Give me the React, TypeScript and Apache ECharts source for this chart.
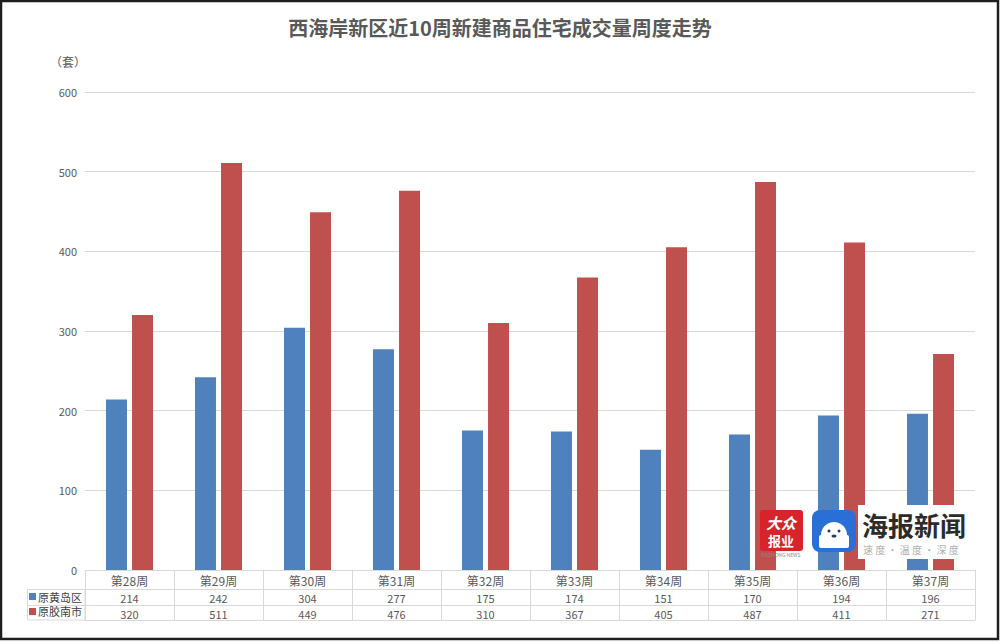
import React, { useEffect, useRef } from "react";
import * as echarts from "echarts";

const weeks = ["第28周", "第29周", "第30周", "第31周", "第32周", "第33周", "第34周", "第35周", "第36周", "第37周"];
const huangdao = [214, 242, 304, 277, 175, 174, 151, 170, 194, 196];
const jiaonan = [320, 511, 449, 476, 310, 367, 405, 487, 411, 271];
const seriesNames = ["原黄岛区", "原胶南市"];
const yTicks = { min: 0, max: 600, interval: 100 };

const FONT = "'Noto Sans CJK SC', 'Noto Sans', sans-serif";
const LINE = "#d9d9d9";
const TXT = "#595959";

export default function App() {
  const ref = useRef<HTMLDivElement>(null);
  useEffect(() => {
    if (!ref.current) return;
    const chart = echarts.init(ref.current, undefined, { renderer: "svg" });
    const hiddenY = (gi: number) => ({ type: "value", gridIndex: gi, show: false });
    const rowAxis = (gi: number, data: number[], margin: number) => ({
      type: "category",
      gridIndex: gi,
      position: "bottom",
      data: data.map(String),
      axisLine: { show: true, lineStyle: { color: LINE, width: 1 } },
      axisTick: { show: false },
      axisLabel: { margin, fontSize: 11, color: TXT, fontFamily: FONT, interval: 0 },
    });
    const wm: any[] = [
      { type: "rect", shape: { x: 858, y: 505, width: 116, height: 54 }, style: { fill: "#ffffff" } },
      { type: "rect", shape: { x: 760, y: 510, width: 43, height: 41, r: 3 }, style: { fill: "#d7242a" } },
      {
        type: "text",
        x: 781,
        y: 522,
        style: { text: "大众", fontSize: 15, fontWeight: "bold", fontStyle: "italic", fill: "#ffffff", align: "center", verticalAlign: "middle", fontFamily: FONT },
      },
      {
        type: "text",
        x: 781,
        y: 540,
        style: { text: "报业", fontSize: 13, fontWeight: "bold", fill: "#ffffff", align: "center", verticalAlign: "middle", fontFamily: FONT },
      },
      {
        type: "text",
        x: 781,
        y: 554,
        style: { text: "DAZHONG NEWS", fontSize: 5, fill: "#888888", align: "center", verticalAlign: "middle", fontFamily: FONT },
      },
      { type: "rect", shape: { x: 812, y: 510, width: 44, height: 42, r: 8 }, style: { fill: "#2a6fd6" } },
      { type: "circle", shape: { cx: 834, cy: 535, r: 13 }, style: { fill: "#ffffff" } },
      { type: "rect", shape: { x: 819, y: 535, width: 30, height: 13, r: 2 }, style: { fill: "#ffffff" } },
      { type: "circle", shape: { cx: 829, cy: 531, r: 1.5 }, style: { fill: "#1f3a66" } },
      { type: "circle", shape: { cx: 839, cy: 531, r: 1.5 }, style: { fill: "#1f3a66" } },
      { type: "ellipse", shape: { cx: 834, cy: 536, rx: 2.5, ry: 1.6 }, style: { fill: "#1f3a66" } },
      {
        type: "text",
        x: 862,
        y: 524,
        style: { text: "海报新闻", fontSize: 26, fontWeight: "bold", fill: "#2b2b2b", verticalAlign: "middle", fontFamily: FONT },
      },
      {
        type: "text",
        x: 863,
        y: 549,
        style: { text: "速 度 · 温 度 · 深 度", fontSize: 10, fill: "#b0b0b0", verticalAlign: "middle", fontFamily: FONT },
      },
    ].map((e) => ({ ...e, z: 100 }));
    chart.setOption({
      animation: false,
      backgroundColor: "#ffffff",
      textStyle: { fontFamily: FONT },
      title: {
        text: "西海岸新区近10周新建商品住宅成交量周度走势",
        left: "center",
        top: 12,
        textStyle: { fontSize: 20, fontWeight: "bold", color: TXT, fontFamily: FONT },
      },
      legend: {
        data: seriesNames,
        orient: "vertical",
        left: 29,
        top: 591,
        itemWidth: 7,
        itemHeight: 7,
        itemGap: 4,
        padding: 0,
        icon: "rect",
        textStyle: { fontSize: 11, color: "#404040", fontFamily: FONT, padding: [0, 0, 0, -3] },
      },
      grid: [
        { left: 85, right: 25, top: 92, height: 478 },
        { left: 85, right: 25, top: 589, height: 16 },
        { left: 85, right: 25, top: 605, height: 15 },
      ],
      xAxis: [
        {
          type: "category",
          gridIndex: 0,
          data: weeks,
          axisLine: { show: true, lineStyle: { color: LINE, width: 1 } },
          axisTick: { show: true, length: 50, lineStyle: { color: LINE } },
          axisLabel: { margin: 4, fontSize: 12, color: TXT, fontFamily: FONT, interval: 0 },
        },
        rowAxis(1, huangdao, -13),
        {
          type: "category",
          gridIndex: 1,
          position: "top",
          data: weeks,
          axisLine: { show: true, lineStyle: { color: LINE, width: 1 } },
          axisTick: { show: false },
          axisLabel: { show: false },
        },
        rowAxis(2, jiaonan, -12),
      ],
      yAxis: [
        {
          type: "value",
          gridIndex: 0,
          min: yTicks.min,
          max: yTicks.max,
          interval: yTicks.interval,
          axisLine: { show: false },
          axisTick: { show: false },
          splitLine: { lineStyle: { color: LINE, width: 1 } },
          axisLabel: { margin: 8, fontSize: 11, color: TXT, fontFamily: FONT },
        },
        hiddenY(1),
        hiddenY(2),
      ],
      series: [
        {
          name: seriesNames[0],
          type: "bar",
          xAxisIndex: 0,
          yAxisIndex: 0,
          data: huangdao,
          barWidth: 21,
          barGap: "24%",
          itemStyle: { color: "#4f81bd" },
        },
        {
          name: seriesNames[1],
          type: "bar",
          xAxisIndex: 0,
          yAxisIndex: 0,
          data: jiaonan,
          barWidth: 21,
          barGap: "24%",
          itemStyle: { color: "#c0504d" },
        },
      ],
      graphic: [
        {
          type: "text",
          x: 50,
          y: 61,
          style: { text: "（套）", fontSize: 12, fill: TXT, fontFamily: FONT, verticalAlign: "middle" },
        },
        {
          type: "rect",
          shape: { x: 27.5, y: 589.5, width: 57.5, height: 30.5 },
          style: { fill: "none", stroke: LINE, lineWidth: 1 },
        },
        {
          type: "line",
          shape: { x1: 27.5, y1: 605.5, x2: 85, y2: 605.5 },
          style: { stroke: LINE, lineWidth: 1 },
        },
        ...wm,
        {
          type: "rect",
          z: 200,
          shape: { x: 1, y: 1, width: 997, height: 638 },
          style: { fill: "none", stroke: "#1e1e1e", lineWidth: 2.5 },
        },
      ],
    });
    return () => chart.dispose();
  }, []);
  return (
    <div
      ref={ref}
      style={{ position: "absolute", left: 0, top: 0, width: 1000, height: 642, background: "#ffffff" }}
    />
  );
}
